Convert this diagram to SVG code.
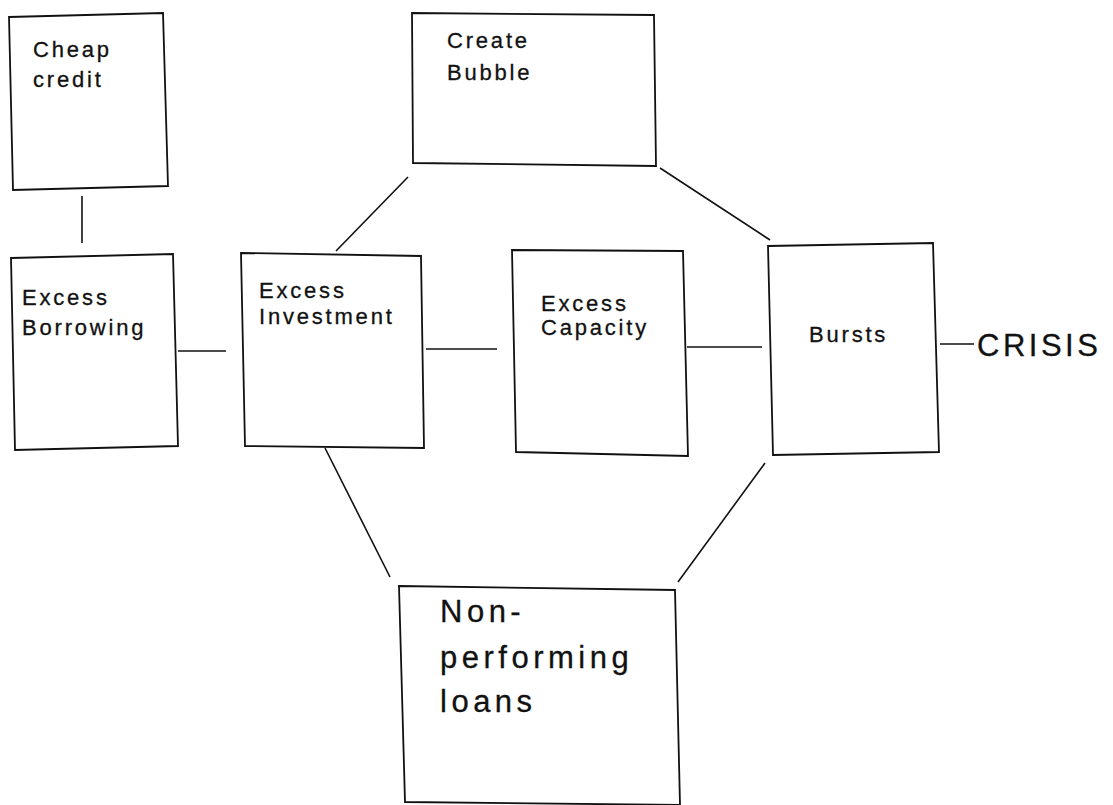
<svg xmlns="http://www.w3.org/2000/svg" width="1113" height="805" viewBox="0 0 1113 805">
<style>
.box{fill:none;stroke:#111;stroke-width:1.8;stroke-linejoin:miter}
.con{fill:none;stroke:#111;stroke-width:1.6}
.t{font-family:"Liberation Sans",Arial,sans-serif;font-size:22px;letter-spacing:2.8px;fill:#111;stroke:#111;stroke-width:0.3}
.big{font-family:"Liberation Sans",Arial,sans-serif;font-size:31px;letter-spacing:4.5px;fill:#111;stroke:#111;stroke-width:0.3}
</style>
<rect width="1113" height="805" fill="#fff"/>
<g id="connectors">
<path class="con" d="M82,196 L82,243"/>
<path class="con" d="M408,177 L336,251"/>
<path class="con" d="M660,168 L770,240"/>
<path class="con" d="M178,351 L226,351"/>
<path class="con" d="M426,349 L497,349"/>
<path class="con" d="M687,347 L762,347"/>
<path class="con" d="M940,344 L974,344"/>
<path class="con" d="M325,448 L390,577"/>
<path class="con" d="M765,463 L678,582"/>
</g>
<g id="cheap-credit">
<path class="box" d="M9,17 L163,13 L168,186 L13,190 Z"/>
<text class="t" x="33" y="57">Cheap</text>
<text class="t" x="33" y="87">credit</text>
</g>
<g id="create-bubble">
<path class="box" d="M412,13 L654,15 L656,166 L413,163 Z"/>
<text class="t" x="447" y="48">Create</text>
<text class="t" x="447" y="80">Bubble</text>
</g>
<g id="excess-borrowing">
<path class="box" d="M11,258 L173,254 L178,446 L15,450 Z"/>
<text class="t" x="22" y="305">Excess</text>
<text class="t" x="22" y="335">Borrowing</text>
</g>
<g id="excess-investment">
<path class="box" d="M241,253 L421,256 L424,448 L245,446 Z"/>
<text class="t" x="259" y="298">Excess</text>
<text class="t" x="259" y="324">Investment</text>
</g>
<g id="excess-capacity">
<path class="box" d="M512,250 L683,251 L688,456 L516,452 Z"/>
<text class="t" x="541" y="311">Excess</text>
<text class="t" x="541" y="335">Capacity</text>
</g>
<g id="bursts">
<path class="box" d="M768,246 L933,243 L939,452 L773,455 Z"/>
<text class="t" x="809" y="342">Bursts</text>
</g>
<g id="crisis">
<text class="big" x="977" y="356" style="letter-spacing:3.5px">CRISIS</text>
</g>
<g id="non-performing-loans">
<path class="box" d="M399,586 L675,590 L680,805 L405,802 Z"/>
<text class="big" x="440" y="622">Non-</text>
<text class="big" x="440" y="668">performing</text>
<text class="big" x="440" y="712">loans</text>
</g>
</svg>
